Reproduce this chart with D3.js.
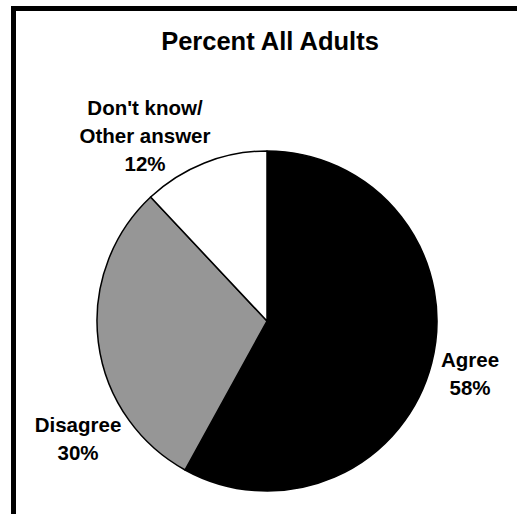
<!DOCTYPE html>
<html>
<head>
<meta charset="utf-8">
<script src="https://cdn.jsdelivr.net/npm/d3@7"></script>
<style>
  html, body { margin: 0; padding: 0; background: #fff; }
  svg { display: block; }
  text { font-family: "Liberation Sans", Arial, sans-serif; font-weight: bold; fill: #000; }
</style>
</head>
<body>
<svg id="chart" width="517" height="514"></svg>
<script>
// Survey responses, share of all adults
const categories = ["Agree", "Disagree", "Don't know/Other answer"];
const values = [58, 30, 12];
const labelLines = [["Agree", "58%"], ["Disagree", "30%"], ["Don't know/", "Other answer", "12%"]];
const fills = ["#000000", "#969696", "#ffffff"];
const title = "Percent All Adults";

const svg = d3.select("#chart");
const W = 517, H = 514;

// Frame: only the top and left edges fall inside the view
svg.append("rect")
  .attr("x", 13.5).attr("y", 8.5)
  .attr("width", W + 20).attr("height", H + 20)
  .attr("fill", "#fff")
  .attr("stroke", "#000")
  .attr("stroke-width", 5);

svg.append("text")
  .attr("x", 270).attr("y", 50)
  .attr("text-anchor", "middle")
  .style("font-size", "25.5px")
  .text(title);

const cx = 267, cy = 321, R = 170;
const data = categories.map((c, i) => ({ cat: c, value: values[i], i }));

const pie = d3.pie().sort(null).value(d => d.value);
const arc = d3.arc().innerRadius(0).outerRadius(R);
const arcs = pie(data);

const g = svg.append("g").attr("transform", `translate(${cx},${cy})`);
g.selectAll("path.slice")
  .data(arcs)
  .join("path")
  .attr("class", "slice")
  .attr("d", arc)
  .attr("fill", d => fills[d.data.i])
  .attr("stroke", "#000")
  .attr("stroke-width", 1.5)
  .attr("stroke-linejoin", "round");

// Label blocks: centre x and the middle of the baselines, outside each slice
const labelAnchor = [[470, 381], [78, 446], [145, 142.5]];
const lineH = 28;

arcs.forEach((a, k) => {
  const lines = labelLines[k];
  const [lx, ly] = labelAnchor[k];
  const t = svg.append("text")
    .attr("text-anchor", "middle")
    .style("font-size", "20.5px");
  lines.forEach((ln, j) => {
    t.append("tspan")
      .attr("x", lx)
      .attr("y", ly + (j - (lines.length - 1) / 2) * lineH)
      .text(ln);
  });
});
</script>
</body>
</html>
